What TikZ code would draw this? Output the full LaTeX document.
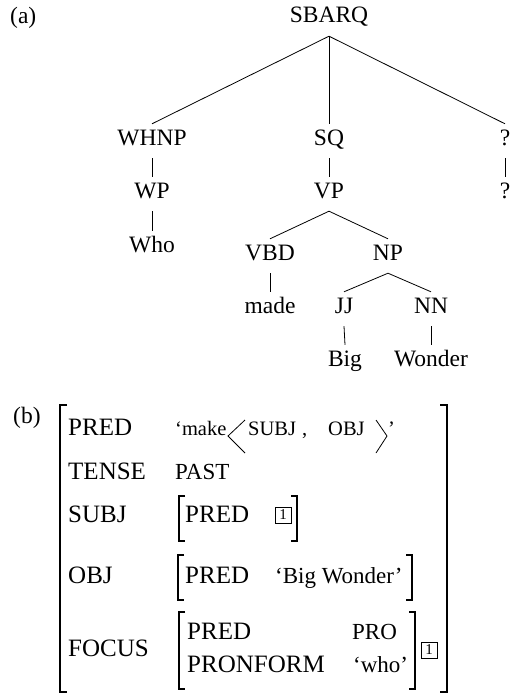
\documentclass[tikz,border=0pt]{standalone}
\usepackage{fontspec}
\setmainfont{Liberation Serif}
\begin{document}
\begin{tikzpicture}[x=1pt,y=-1pt,
  tn/.style={anchor=base,inner xsep=0pt,inner ysep=6pt,text height=15pt,text depth=7pt,
    font=\fontsize{23.5}{28}\selectfont},
  tl/.style={line width=0.8pt},
  lbl/.style={anchor=base west,inner sep=0pt,font=\fontsize{23.5}{28}\selectfont},
  att/.style={anchor=base west,inner sep=0pt,font=\fontsize{25}{30}\selectfont},
  val/.style={anchor=base west,inner sep=0pt,font=\fontsize{23}{28}\selectfont},
  arg/.style={anchor=base west,inner sep=0pt,font=\fontsize{20.5}{26}\selectfont},
  tag/.style={draw,line width=0.7pt,minimum width=16pt,minimum height=16pt,inner sep=0pt,
    font=\fontsize{15}{17}\selectfont},
  brk/.style={line width=1.5pt},
  ang/.style={line width=0.8pt}]
\useasboundingbox[fill=white] (0,0) rectangle (510,693);

% ---------- (a) phrase-structure tree ----------
\node[lbl] (la) at (10,24) {(a)};
\node[tn] (sbarq) at (329,23) {SBARQ};
\node[tn] (whnp) at (152,145) {WHNP};
\node[tn] (sq) at (329,145) {SQ};
\node[tn] (q1) at (505,145) {?};
\node[tn] (wp) at (152,198) {WP};
\node[tn] (vp) at (329,198) {VP};
\node[tn] (q2) at (505,198) {?};
\node[tn] (who) at (152,252) {Who};
\node[tn] (vbd) at (270,260) {VBD};
\node[tn] (np) at (388,260) {NP};
\node[tn] (made) at (270,313) {made};
\node[tn] (jj) at (344,313) {JJ};
\node[tn] (nn) at (431,313) {NN};
\node[tn] (big) at (345,366) {Big};
\node[tn] (wonder) at (431,366) {Wonder};

\draw[tl] (sbarq.south) -- (whnp.north);
\draw[tl] (sbarq.south) -- (sq.north);
\draw[tl] (sbarq.south) -- (q1.north);
\draw[tl] (whnp.south) -- (wp.north);
\draw[tl] (wp.south) -- (who.north);
\draw[tl] (sq.south) -- (vp.north);
\draw[tl] (q1.south) -- (q2.north);
\draw[tl] (vp.south) -- (vbd.north);
\draw[tl] (vp.south) -- (np.north);
\draw[tl] (vbd.south) -- (made.north);
\draw[tl] (np.south) -- (jj.north);
\draw[tl] (np.south) -- (nn.north);
\draw[tl] (jj.south) -- (big.north);
\draw[tl] (nn.south) -- (wonder.north);

% ---------- (b) f-structure ----------
\node[lbl] (lb) at (13,423) {(b)};

% outer brackets
\draw[brk] (67,405) -- (60,405) -- (60,692) -- (67,692);
\draw[brk] (440,405) -- (447,405) -- (447,692) -- (440,692);

% PRED row
\node[att] (a1) at (68,435) {PRED};
\node[arg] (mk) at (175,435) {‘make};
\draw[ang] (245,420) -- (228,436) -- (245,453);
\node[arg] (s1) at (248,435) {SUBJ};
\node[arg] (cm) at (302,435) {,};
\node[arg] (o1) at (328,435) {OBJ};
\draw[ang] (376,420) -- (387,436) -- (376,453);
\node[arg] (cq) at (388,435) {’};

% TENSE row
\node[att] (a2) at (68,479) {TENSE};
\node[val] (v2) at (175,479) {PAST};

% SUBJ row
\node[att] (a3) at (68,522) {SUBJ};
\draw[brk] (185,496) -- (179,496) -- (179,541) -- (185,541);
\node[att] (p3) at (185,522) {PRED};
\node[tag] (t3) at (283,515) {1};
\draw[brk] (291,496) -- (297,496) -- (297,541) -- (291,541);

% OBJ row
\node[att] (a4) at (68,583) {OBJ};
\draw[brk] (184,555) -- (178,555) -- (178,600) -- (184,600);
\node[att] (p4) at (185,583) {PRED};
\node[val] (v4) at (275,583) {‘Big Wonder’};
\draw[brk] (406,555) -- (412,555) -- (412,600) -- (406,600);

% FOCUS row
\node[att] (a5) at (68,656) {FOCUS};
\draw[brk] (185,612) -- (179,612) -- (179,689) -- (185,689);
\node[att] (p5) at (187,639) {PRED};
\node[val] (v5) at (352,639) {PRO};
\node[att] (p6) at (187,672) {PRONFORM};
\node[val] (v6) at (353,672) {‘who’};
\draw[brk] (409,612) -- (415,612) -- (415,689) -- (409,689);
\node[tag] (t5) at (429,650) {1};
\end{tikzpicture}
\end{document}
